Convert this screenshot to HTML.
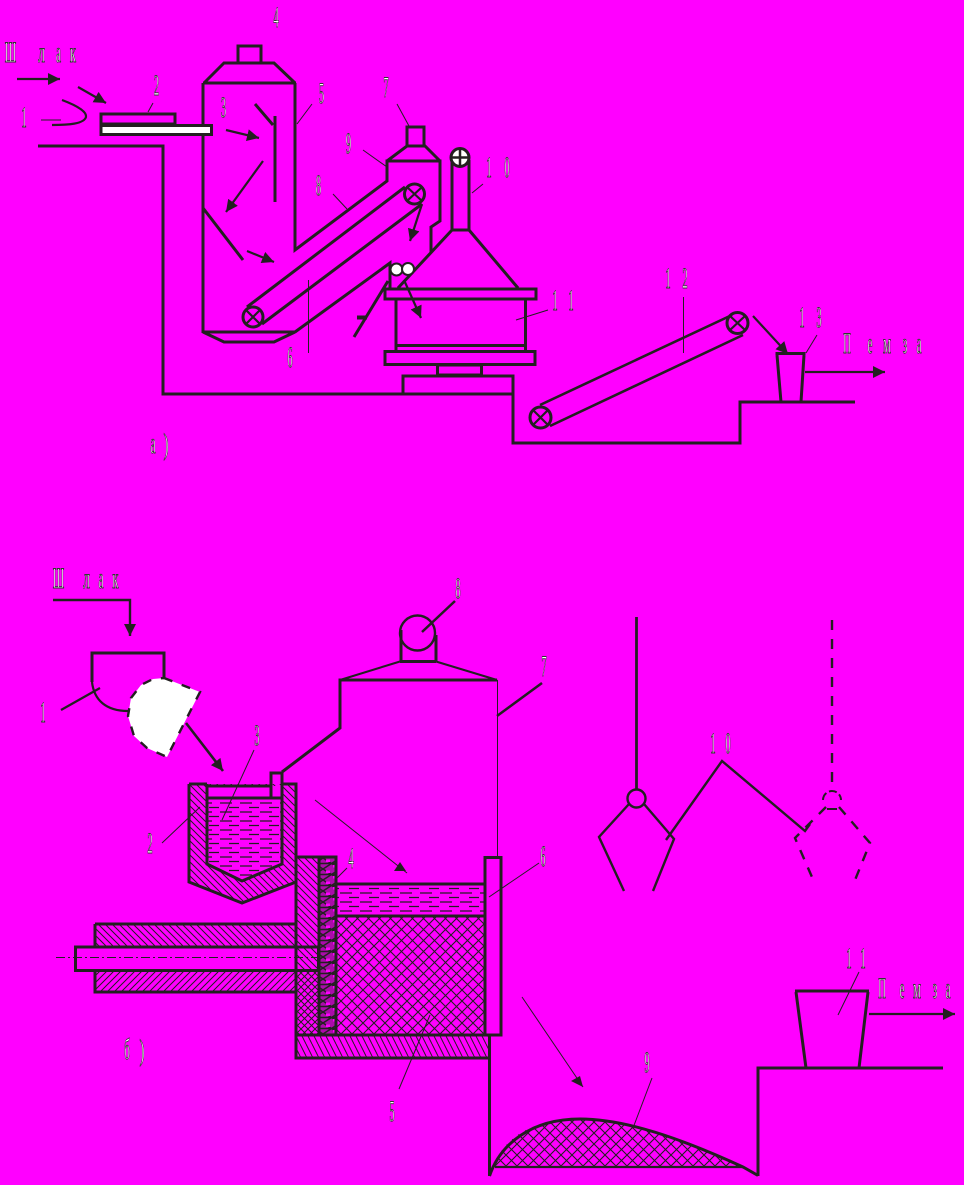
<!DOCTYPE html>
<html><head><meta charset="utf-8"><style>
html,body{margin:0;padding:0;background:#f0f}
svg{display:block}
.t{font-family:"Liberation Serif","DejaVu Serif",serif;font-size:30px;text-anchor:middle;fill:#fff;stroke:#333;stroke-width:.9}
.m{fill:none;stroke:#231f20;stroke-width:3;stroke-linejoin:miter}
.n{fill:none;stroke:#231f20;stroke-width:1}
.a{fill:none;stroke:#231f20;stroke-width:2.2}
.d{fill:none;stroke:#231f20;stroke-width:2.4;stroke-dasharray:10 9}
</style></head><body>
<svg width="964" height="1185" viewBox="0 0 964 1185" xmlns="http://www.w3.org/2000/svg">
<defs>
<marker id="ah" markerUnits="userSpaceOnUse" markerWidth="13" markerHeight="12" refX="12" refY="6" orient="auto"><path d="M0 0L12 6L0 12z" fill="#231f20"/></marker>
<pattern id="hb" patternUnits="userSpaceOnUse" width="7" height="7"><path d="M-1 -1L8 8M-8 -1L1 8M6 -1L15 8" stroke="#231f20" stroke-width="1" fill="none"/></pattern>
<pattern id="hf" patternUnits="userSpaceOnUse" width="7" height="7"><path d="M-1 8L8 -1M-8 8L1 -1M6 8L15 -1" stroke="#231f20" stroke-width="1" fill="none"/></pattern>
<pattern id="hs" patternUnits="userSpaceOnUse" width="6" height="12"><path d="M0 0L6 12M-6 0L0 12M6 0L12 12" stroke="#231f20" stroke-width="1" fill="none"/></pattern>
<pattern id="x" patternUnits="userSpaceOnUse" width="11" height="11"><path d="M-1 -1L12 12M-1 12L12 -1" stroke="#231f20" stroke-width="1.100" fill="none"/></pattern>
<pattern id="r" patternUnits="userSpaceOnUse" width="17" height="11"><rect width="17" height="11" fill="#231f20" opacity=".38"/><path d="M0 0L17 11M0 11L17 0M0 5.5H17" stroke="#231f20" stroke-width="1.5" fill="none"/><rect x="3" y="1.5" width="4" height="2.5" fill="#f0f"/><rect x="10" y="7" width="4" height="2.5" fill="#f0f"/></pattern>
<pattern id="s" patternUnits="userSpaceOnUse" width="20" height="9"><path d="M0 2H12M9 6.5H19" stroke="#231f20" stroke-width="1.200" fill="none"/></pattern>
</defs>
<rect width="964" height="1185" fill="#f0f"/>

<!-- ===== a) ===== -->
<path class="m" d="M38 146H163V394H513M403 394V376H513V443H740V402H855"/>
<path class="m" d="M238 62V46H261V62M204 83L224 63H274L295 83M203 83H296M203 83V333M295 83V250L387 181V161H440V221L431 227V252"/>
<path class="m" d="M203 332L224 342H274L295 332H203M295 332L390 263V288"/>
<path class="m" d="M387 161L407 146H425L440 161M407 146V127H424V146"/>
<path class="m" d="M203 208L243 260"/>
<path class="m" d="M275 116V202M255 104L273 125"/>
<rect x="101" y="114" width="74" height="10" class="m"/>
<rect x="101" y="125.500" width="110.500" height="9" fill="#fff" stroke="#231f20" stroke-width="3"/>
<path class="a" d="M62 100C78 106 87 112 86 117C84 124 68 125 52 125"/>
<path class="n" d="M41 120H61"/>
<path class="a" marker-end="url(#ah)" d="M17 79H60"/>
<path class="a" marker-end="url(#ah)" d="M78 87L106 103"/>
<path class="a" marker-end="url(#ah)" d="M226 130L259 138"/>
<path class="a" marker-end="url(#ah)" d="M263 161L226 212"/>
<path class="a" marker-end="url(#ah)" d="M247 251L274 262"/>
<path class="a" marker-end="url(#ah)" d="M422 204L410 241"/>
<path class="a" marker-end="url(#ah)" d="M404 280L421 318"/>
<path class="a" marker-end="url(#ah)" d="M753 316L788 354"/>
<path class="a" marker-end="url(#ah)" d="M805 372H885"/>

<!-- conveyor 6 -->
<path class="m" d="M247 307L405 187M262 324L422 204"/>
<circle cx="253" cy="317" r="10" class="m"/><path class="a" d="M246 310L260 324M260 310L246 324"/>
<circle cx="414.500" cy="194" r="10" class="m"/><path class="a" d="M407 201L422 187M407 187L422 201"/>

<!-- chute -->
<path class="m" d="M452 160V230H469V160M452 230L398 288M469 230L518 288"/>
<circle cx="460" cy="157.500" r="9" fill="#fff" stroke="#231f20" stroke-width="3"/><path d="M451 157.500H469M460 149V166" stroke="#231f20" stroke-width="2.500"/>
<circle cx="396.500" cy="269.500" r="6" fill="#fff" stroke="#231f20" stroke-width="2"/>
<circle cx="408" cy="269" r="6" fill="#fff" stroke="#231f20" stroke-width="2"/>
<path class="m" d="M388 281L354 337"/><path d="M357 317.500H367" stroke="#231f20" stroke-width="4"/>
<rect x="385" y="289" width="151" height="10" class="m"/>
<path class="m" d="M396 299V351M525.500 299V351M396 345.500H525.500"/>
<rect x="385" y="351.500" width="150" height="13" class="m"/>
<rect x="437.500" y="365" width="44" height="10" class="m"/>

<!-- conveyor 12 -->
<path class="a" d="M540 405L732 315M550 426L743 335" style="stroke-width:2.6"/>
<circle cx="540.500" cy="417.500" r="10.500" class="m"/><path class="a" d="M533 410L548 425M548 410L533 425"/>
<circle cx="737.500" cy="323" r="10.500" class="m"/><path class="a" d="M730 316L745 330M745 316L730 330"/>
<path class="m" d="M775.500 353.500H805.500"/>
<path class="m" d="M777 355L781 402M804 355L801 402"/>

<!-- leaders a -->
<path class="n" d="M148 112L153 103M297 124L312 104M397 104L409 126M363 150L387 167M333 194L347 209M472 193L483 184M516 320L548 310M308.500 280V353M683.500 297V353M806 353L817 335"/>

<!-- labels a -->
<text class="t" transform="translate(10.500 62) scale(.38 1)">Ш</text>
<text class="t" transform="translate(41.500 62) scale(.45 1)">л</text>
<text class="t" transform="translate(58.500 62) scale(.38 1)">а</text>
<text class="t" transform="translate(73 62) scale(.42 1)">к</text>
<text class="t" transform="translate(24 127) scale(.35 1)">1</text>
<text class="t" transform="translate(156.500 95) scale(.35 1)">2</text>
<text class="t" transform="translate(223.500 117) scale(.35 1)">3</text>
<text class="t" transform="translate(276 27) scale(.35 1)">4</text>
<text class="t" transform="translate(321.500 103) scale(.35 1)">5</text>
<text class="t" transform="translate(386 97) scale(.35 1)">7</text>
<text class="t" transform="translate(348.500 153) scale(.35 1)">9</text>
<text class="t" transform="translate(318.500 195) scale(.35 1)">8</text>
<text class="t" transform="translate(290 367) scale(.35 1)">6</text>
<text class="t" transform="translate(489 177) scale(.35 1)">1</text>
<text class="t" transform="translate(507 177) scale(.35 1)">0</text>
<text class="t" transform="translate(555 310) scale(.35 1)">1</text>
<text class="t" transform="translate(571 310) scale(.35 1)">1</text>
<text class="t" transform="translate(668 288) scale(.35 1)">1</text>
<text class="t" transform="translate(685 288) scale(.35 1)">2</text>
<text class="t" transform="translate(802 327) scale(.35 1)">1</text>
<text class="t" transform="translate(819 327) scale(.35 1)">3</text>
<text class="t" transform="translate(847 353) scale(.35 1)">П</text>
<text class="t" transform="translate(870 353) scale(.38 1)">е</text>
<text class="t" transform="translate(887 353) scale(.42 1)">м</text>
<text class="t" transform="translate(905 353) scale(.38 1)">з</text>
<text class="t" transform="translate(919 353) scale(.38 1)">а</text>
<text class="t" transform="translate(153 453) scale(.38 1)">а</text>
<text class="t" transform="translate(166 454) scale(.5 1)">)</text>

<!-- ===== б) ===== -->
<path class="a" marker-end="url(#ah)" d="M53 600H130V636" style="stroke-width:2.400"/>
<path class="m" d="M92 682V653H164V678"/>
<path class="a" d="M92 682C94 700 106 711 128 711"/>
<path d="M164 678L200 692L167 757L147 748L134 736L128 716L131 698L141 685L153 679Z" fill="#fff"/>
<path d="M164 678L200 692L167 757L147 748L134 736L128 716L131 698L141 685L153 679Z" fill="none" stroke="#231f20" stroke-width="2.400" stroke-dasharray="9 10"/>
<path class="a" d="M61 710L100 688"/>
<path class="a" marker-end="url(#ah)" d="M186 723L223 771" style="stroke-width:2.600"/>

<!-- crucible -->
<path d="M189 784H296V882L242 903L189 882Z" fill="url(#hb)"/>
<path d="M207 786H282V864L242 881L207 864Z" fill="#f0f"/>
<path d="M207 798H282V864L242 881L207 864Z" fill="url(#s)"/>
<path class="m" d="M189 784V882L242 903L296 882V784H282M207 784H189M207 784V864L242 881L282 864V773H271V798M207 786H271M207 798H282"/>

<!-- furnace hood -->
<path class="m" d="M282 772L340 728V680H497M400 661.500H436M401 661V630M436 661V635"/>
<path class="a" d="M340 680L400 661.500M436 661.500L497 680" style="stroke-width:2"/>
<circle cx="417.500" cy="633" r="17.500" class="a" style="stroke-width:2.400"/>
<path class="a" d="M422 632L455 601M497 716L542 683" style="stroke-width:2.500"/>
<path class="n" d="M497.500 680V857"/>

<!-- body -->
<rect x="296" y="857" width="23" height="178" fill="url(#hb)"/>
<rect x="319" y="857" width="17" height="178" fill="url(#r)"/>
<rect x="336" y="884" width="148" height="32" fill="url(#s)"/>
<rect x="336" y="916" width="148" height="119" fill="url(#x)"/>
<rect x="296" y="1035" width="193" height="23" fill="url(#hs)"/>
<rect x="95" y="924" width="200" height="23" fill="url(#hb)"/>
<rect x="95" y="971" width="200" height="21" fill="url(#hf)"/>
<rect x="296" y="971" width="23" height="64" fill="url(#hf)"/>
<path class="m" d="M296 857V1058H489M296 857H336V1035M319 857V1035M336 884H484M336 916H484M296 1035H489M95 924H296M95 924V947M95 971V992H296"/>
<rect x="75.500" y="947" width="243" height="23.500" class="m"/>
<rect x="485" y="857.500" width="16" height="177.500" class="m"/>
<path d="M56 957.500H318" stroke="#231f20" stroke-width="1" stroke-dasharray="9 3 2 3" fill="none"/>

<!-- pit -->
<path d="M493 1167C505 1135 535 1119 580 1119C630 1119 690 1140 743 1167Z" fill="url(#x)"/>
<path class="m" d="M489.500 1035V1176M758 1176V1068H943"/>
<path class="m" d="M489.500 1176C500 1145 530 1119 580 1119C625 1119 680 1138 743 1167L758 1175.500"/>
<path class="a" d="M495 1167H743"/>
<path class="m" d="M795 991H869M796 992L806 1068M868 992L859 1068"/>
<path class="a" marker-end="url(#ah)" d="M869 1014H955"/>

<!-- thin arrows -->
<path class="n" d="M315 800L407 873M522 997L583 1087"/>
<path d="M400 862L394 871L406 871Z" fill="#231f20"/>
<path d="M571 1081L580 1076L583 1087Z" fill="#231f20"/>

<!-- grabs -->
<path class="m" d="M636.500 617V790" style="stroke-width:2.800"/>
<circle cx="636.500" cy="798.500" r="9" class="a" style="stroke-width:2.400"/>
<path class="a" d="M629 804L599 837L624 891M644 804L674 839L653 891" style="stroke-width:2.400"/>
<path class="a" d="M666 840L722 761L805 831L810 824" style="stroke-width:2.400"/>
<path class="d" d="M832 620V792"/>
<path class="a" d="M823 800A9 9 0 0 1 841 800" stroke-dasharray="8 3" style="stroke-width:2"/>
<path class="a" d="M827 809H837" style="stroke-width:2"/>
<path class="d" d="M826 807L795 838L815 884M839 807L870 843L853 885"/>

<!-- leaders б -->
<path class="n" d="M254 750L222 820M162 843L200 807M347 868L337 878M539 863L489 897M399 1089L430 1015M859 972L838 1015M652 1078L633 1128"/>

<!-- labels б -->
<text class="t" transform="translate(58.500 588) scale(.38 1)">Ш</text>
<text class="t" transform="translate(86.500 588) scale(.45 1)">л</text>
<text class="t" transform="translate(101 588) scale(.38 1)">а</text>
<text class="t" transform="translate(115.500 588) scale(.42 1)">к</text>
<text class="t" transform="translate(43 722) scale(.35 1)">1</text>
<text class="t" transform="translate(150 853) scale(.35 1)">2</text>
<text class="t" transform="translate(257 745) scale(.35 1)">3</text>
<text class="t" transform="translate(351 868) scale(.35 1)">4</text>
<text class="t" transform="translate(392 1121) scale(.35 1)">5</text>
<text class="t" transform="translate(543 866) scale(.35 1)">6</text>
<text class="t" transform="translate(544 676) scale(.35 1)">7</text>
<text class="t" transform="translate(458 598) scale(.35 1)">8</text>
<text class="t" transform="translate(647 1072) scale(.35 1)">9</text>
<text class="t" transform="translate(713 753) scale(.35 1)">1</text>
<text class="t" transform="translate(728 753) scale(.35 1)">0</text>
<text class="t" transform="translate(849 968) scale(.35 1)">1</text>
<text class="t" transform="translate(863 968) scale(.35 1)">1</text>
<text class="t" transform="translate(882 998) scale(.35 1)">П</text>
<text class="t" transform="translate(902 998) scale(.38 1)">е</text>
<text class="t" transform="translate(917 998) scale(.42 1)">м</text>
<text class="t" transform="translate(935 998) scale(.38 1)">з</text>
<text class="t" transform="translate(948 998) scale(.38 1)">а</text>
<text class="t" transform="translate(127 1059) scale(.38 1)">б</text>
<text class="t" transform="translate(142 1060) scale(.5 1)">)</text>
</svg>
</body></html>
